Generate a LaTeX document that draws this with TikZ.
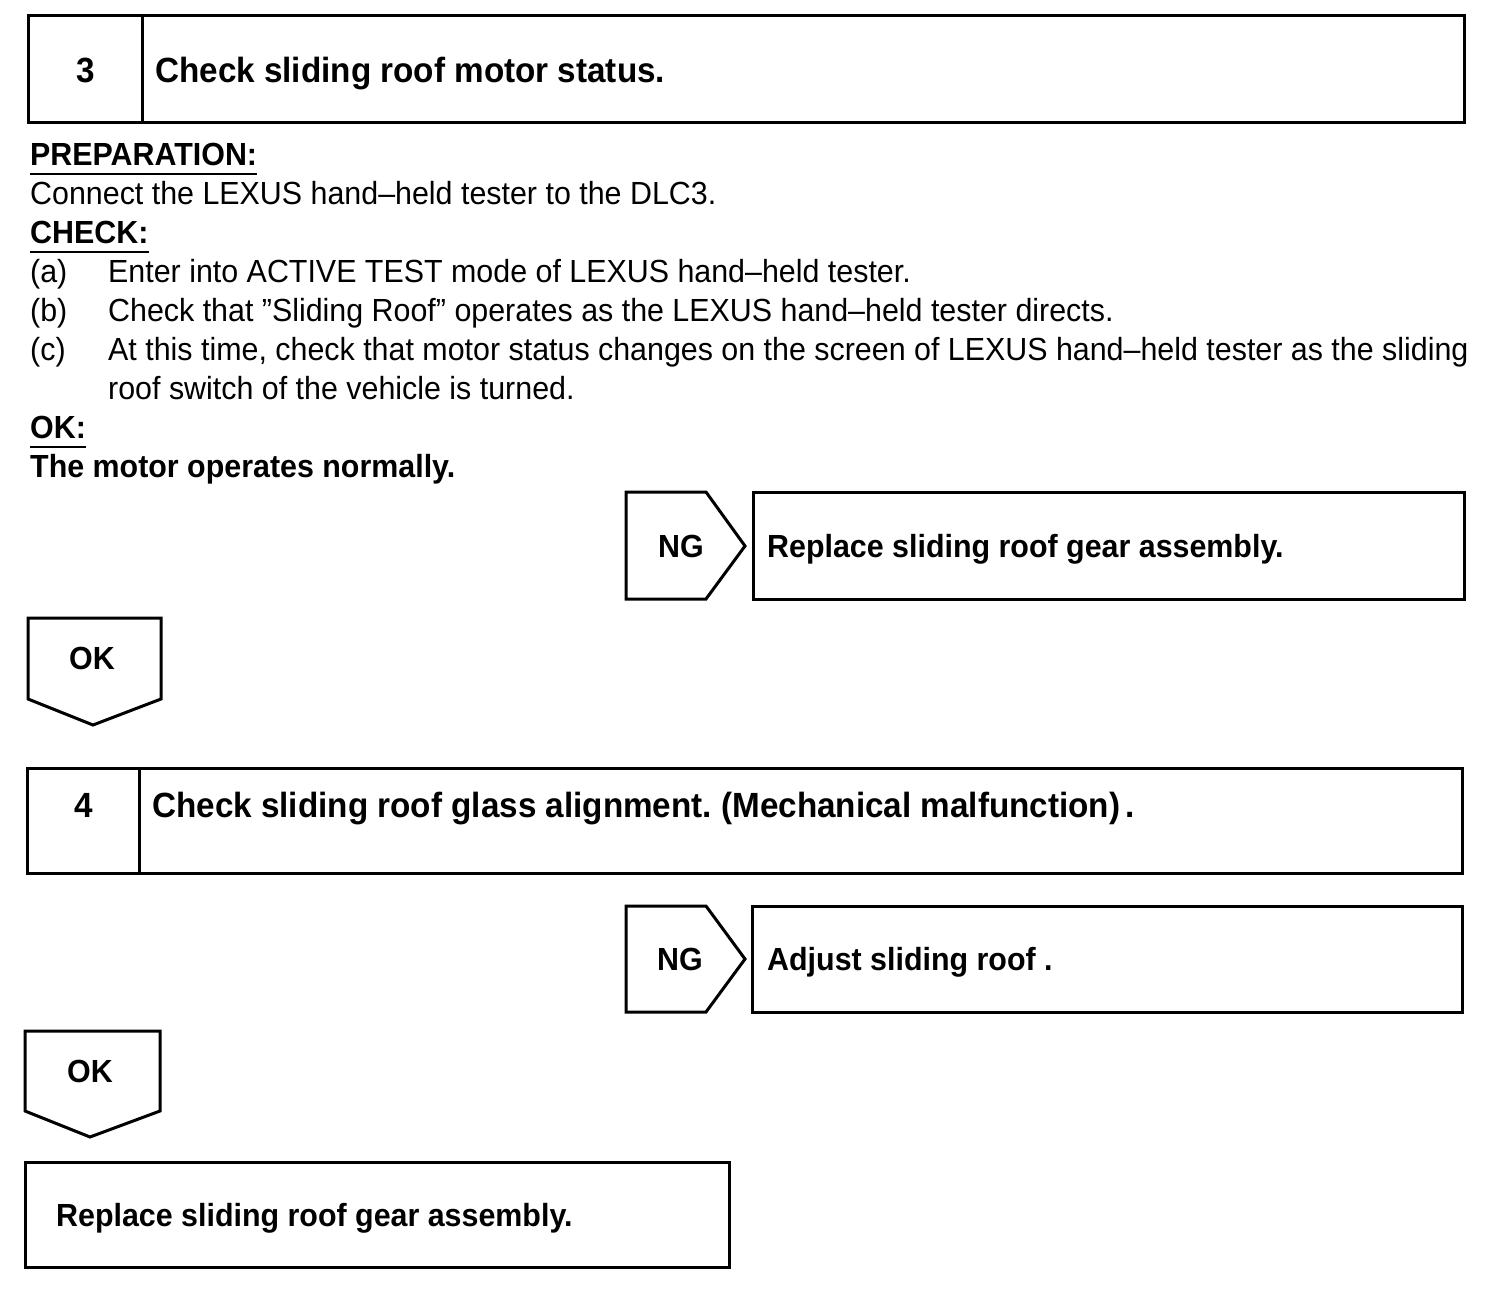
\documentclass[tikz,border=0pt]{standalone}
\usepackage{fontspec}
\setmainfont[FakeStretch=0.95]{Liberation Sans}
\frenchspacing
\begin{document}
\begin{tikzpicture}[x=1pt,y=-1pt,
  box/.style={draw, line width=3pt, inner sep=0pt, outer sep=0pt, anchor=north west},
  arrowshape/.style={draw, line width=3pt, line join=miter},
  txt/.style={anchor=base west, inner sep=0pt, font=\fontsize{32}{38}\selectfont},
  btxt/.style={anchor=base west, inner sep=0pt, font=\fontsize{32}{38}\selectfont\bfseries},
  ctxt/.style={anchor=base, inner sep=0pt, font=\fontsize{32}{38}\selectfont\bfseries},
  ttl/.style={anchor=base west, inner sep=0pt, font=\fontsize{35}{40}\selectfont\bfseries},
  tnum/.style={anchor=base, inner sep=0pt, font=\fontsize{35}{40}\selectfont\bfseries},
  uline/.style={line width=2pt}]
\useasboundingbox (0,0) rectangle (1504,1290);

% ---- step 3 header
\node[box, minimum width=1436pt, minimum height=106pt] (b3) at (28,16) {};
\draw[line width=3pt] ([xshift=114pt]b3.north west) -- ([xshift=114pt]b3.south west);
\node[tnum] (n3) at (86,82) {3};
\node[ttl] (t3) at (155,82) {Check sliding roof motor status.};

% ---- text block
\node[btxt] (prep) at (30,165) {PREPARATION:};
\draw[uline] ([yshift=-9pt]prep.base west) -- ([yshift=-9pt]prep.base east);
\node[txt] (conn) at (30,204) {Connect the LEXUS hand--held tester to the DLC3.};
\node[btxt] (chk) at (30,243) {CHECK:};
\draw[uline] ([yshift=-9pt]chk.base west) -- ([yshift=-9pt]chk.base east);
\node[txt] (la) at (30,282) {(a)};
\node[txt] (ia) at (108,282) {Enter into ACTIVE TEST mode of LEXUS hand--held tester.};
\node[txt] (lb) at (30,321) {(b)};
\node[txt] (ib) at (108,321) {Check that ''Sliding Roof'' operates as the LEXUS hand--held tester directs.};
\node[txt] (lc) at (30,360) {(c)};
\node[txt] (ic) at (108,360) {At this time, check that motor status changes on the screen of LEXUS hand--held tester as the sliding};
\node[txt] (ic2) at (108,399) {roof switch of the vehicle is turned.};
\node[btxt] (okh) at (30,438) {OK:};
\draw[uline] ([yshift=-9pt]okh.base west) -- ([yshift=-9pt]okh.base east);
\node[btxt] (okt) at (30,477) {The motor operates normally.};

% ---- NG 1
\draw[arrowshape] (626,492) -- (706,492) -- (745,546) -- (706,599) -- (626,599) -- cycle;
\node[ctxt] (ng1) at (681,557) {NG};
\node[box, minimum width=711pt, minimum height=107pt] (r1) at (753,492) {};
\node[btxt] (r1t) at (767,557) {Replace sliding roof gear assembly.};

% ---- OK 1
\draw[arrowshape] (28,618) -- (161,618) -- (161,699) -- (93,725) -- (28,699) -- cycle;
\node[ctxt] (ok1) at (92,669) {OK};

% ---- step 4 header
\node[box, minimum width=1435pt, minimum height=105pt] (b4) at (27,768) {};
\draw[line width=3pt] ([xshift=112pt]b4.north west) -- ([xshift=112pt]b4.south west);
\node[tnum] (n4) at (84,817) {4};
\node[ttl] (t4) at (152,817) {Check sliding roof glass alignment. (Mechanical malfunction)\hspace{5pt}.};

% ---- NG 2
\draw[arrowshape] (626,906) -- (706,906) -- (745,959) -- (706,1012) -- (626,1012) -- cycle;
\node[ctxt] (ng2) at (680,970) {NG};
\node[box, minimum width=710pt, minimum height=106pt] (r2) at (752,906) {};
\node[btxt] (r2t) at (767,970) {Adjust sliding roof .};

% ---- OK 2
\draw[arrowshape] (25,1031) -- (160,1031) -- (160,1111) -- (90,1137) -- (25,1111) -- cycle;
\node[ctxt] (ok2) at (90,1082) {OK};

% ---- final box
\node[box, minimum width=704pt, minimum height=105pt] (r3) at (25,1162) {};
\node[btxt] (r3t) at (56,1226) {Replace sliding roof gear assembly.};
\end{tikzpicture}
\end{document}
